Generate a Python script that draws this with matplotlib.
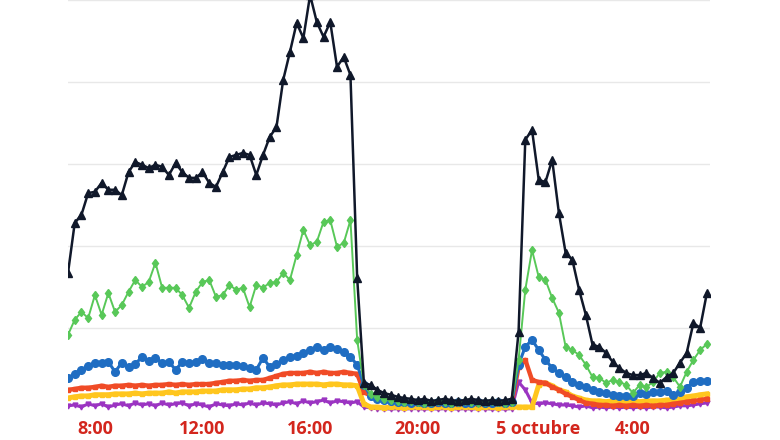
import matplotlib
matplotlib.use("Agg")
import matplotlib.pyplot as plt
import matplotlib.transforms as mtransforms
import pandas as pd

# 15-minute samples from 4 Oct 07:00 to 5 Oct 06:45
times = pd.date_range("2023-10-04 07:00", periods=96, freq="15min")

tick_times = pd.to_datetime(["2023-10-04 08:00", "2023-10-04 12:00", "2023-10-04 16:00",
                             "2023-10-04 20:00", "2023-10-05 00:00", "2023-10-05 04:00"])
tick_labels = ["8:00", "12:00", "16:00", "20:00", "5 octubre", "4:00"]

black = [33.4, 45.6, 47.6, 52.9, 53.2, 55.4, 53.7, 53.7, 52.4, 58.0, 60.5, 59.8, 59.0, 59.8, 59.3,
         57.3, 60.2, 58.0, 56.6, 56.6, 58.0, 55.4, 54.4, 58.0, 61.7, 62.2, 62.7, 62.2, 57.3, 62.2,
         66.6, 69.0, 80.5, 87.3, 94.4, 90.7, 101.2, 94.6, 91.0, 94.6, 83.7, 86.1, 81.7, 32.2, 6.6,
         6.1, 4.9, 4.1, 3.7, 3.2, 2.9, 2.7, 2.4, 2.7, 2.2, 2.4, 2.7, 2.4, 2.2, 2.4, 2.7, 2.4, 2.2,
         2.4, 2.2, 2.4, 2.7,
         19.0, 65.9, 68.3, 56.1, 55.6, 61.0, 48.0, 38.3, 36.6, 29.3, 23.2, 15.9, 15.4, 13.9, 11.7,
         10.2, 9.0, 8.5, 8.5, 9.0, 7.8, 6.6, 8.0, 9.0, 11.5, 13.9, 21.2, 20.0, 28.5]

green = [18.3, 22.0, 23.9, 22.4, 28.0, 23.2, 28.5, 23.9, 25.6, 28.8, 31.7, 30.0, 31.2, 35.9, 29.8,
         29.8, 29.8, 28.0, 24.9, 28.8, 31.2, 31.7, 27.6, 28.0, 30.5, 29.3, 29.8, 25.1, 30.5, 29.8,
         31.0, 31.2, 33.4, 31.7, 37.8, 43.9, 40.2, 41.0, 45.9, 46.3, 39.8, 40.7, 46.3, 17.1, 6.1,
         3.9, 3.2, 2.7, 2.4, 2.2, 2.0, 2.2, 2.0, 1.7, 2.0, 2.2, 2.0, 1.7, 2.0, 2.2, 2.0, 1.7, 2.0,
         2.2, 2.0, 1.7, 2.0,
         12.2, 29.3, 39.0, 32.4, 31.7, 27.3, 23.7, 15.4, 14.6, 13.4, 11.0, 8.0, 7.8, 6.6, 7.3,
         6.8, 6.1, 4.1, 6.1, 5.6, 6.8, 9.0, 9.3, 8.0, 5.6, 9.3, 12.2, 14.6, 16.1]

blue = [7.8, 8.8, 9.8, 10.7, 11.5, 11.5, 11.7, 9.3, 11.5, 10.5, 11.2, 12.9, 12.0, 12.7, 11.5,
        11.7, 9.8, 11.7, 11.5, 11.7, 12.4, 11.5, 11.5, 11.0, 11.0, 11.0, 10.7, 10.2, 9.8, 12.7,
        10.5, 11.2, 12.2, 12.9, 13.2, 13.9, 14.6, 15.4, 14.6, 15.4, 14.9, 14.1, 12.9, 11.0, 6.1,
        3.4, 2.7, 2.4, 2.2, 2.0, 2.0, 1.7, 2.0, 1.7, 1.7, 2.0, 1.7, 1.7, 2.0, 1.7, 1.7, 2.0, 1.7,
        1.7, 2.0, 1.7, 2.0,
        11.0, 15.4, 17.1, 14.6, 12.2, 10.2, 9.0, 8.0, 6.8, 6.1, 5.6, 4.9, 4.4, 4.1, 3.7,
        3.4, 3.4, 3.4, 4.1, 3.9, 4.4, 4.4, 4.6, 3.7, 4.4, 5.4, 6.8, 7.1, 7.1]

red = [4.9, 5.1, 5.4, 5.4, 5.6, 5.9, 5.6, 5.9, 5.9, 6.1, 5.9, 6.1, 5.9, 6.1, 6.1,
       6.3, 6.1, 6.3, 6.1, 6.3, 6.3, 6.3, 6.6, 6.8, 7.1, 7.1, 7.3, 7.1, 7.3, 7.3,
       7.8, 8.3, 8.8, 9.0, 9.0, 9.0, 9.3, 9.0, 9.3, 9.0, 9.0, 9.3, 9.0, 8.8, 4.4,
       3.4, 2.7, 2.4, 2.2, 2.0, 2.0, 1.7, 1.7, 1.5, 1.7, 1.5, 1.5, 1.7, 1.5, 1.5, 1.7, 1.5, 1.5,
       1.5, 1.7, 1.5, 1.7,
       10.5, 12.2, 7.3, 6.8, 6.6, 5.6, 4.9, 3.9, 3.2, 2.4, 1.7, 1.5, 1.2, 1.2, 1.0,
       1.2, 1.0, 1.2, 1.0, 1.2, 1.0, 1.2, 1.2, 1.5, 1.7, 2.0, 2.2, 2.4, 2.7]

yellow = [2.9, 3.2, 3.4, 3.4, 3.7, 3.7, 3.7, 3.9, 3.9, 3.9, 4.1, 3.9, 4.1, 4.1, 4.1,
          4.4, 4.1, 4.4, 4.4, 4.4, 4.6, 4.6, 4.6, 4.9, 4.9, 4.9, 5.1, 5.1, 5.4, 5.4,
          5.6, 5.9, 6.1, 6.1, 6.3, 6.3, 6.3, 6.3, 6.1, 6.3, 6.3, 6.1, 6.1, 5.9, 1.5,
          0.7, 0.7, 0.5, 0.7, 0.7, 0.5, 0.7, 0.7, 0.7, 0.5, 0.7, 0.7, 0.5, 0.7, 0.7, 0.7, 0.5, 0.7,
          0.7, 0.5, 0.7, 0.7,
          0.7, 0.7, 0.7, 6.1, 6.6, 5.9, 4.9, 4.4, 3.4, 2.9, 2.4, 2.2, 2.2, 2.0, 2.2,
          2.0, 2.0, 2.2, 2.0, 2.2, 2.2, 2.2, 2.4, 2.4, 2.7, 3.2, 3.4, 3.7, 3.9]

purple = [1.0, 1.2, 0.7, 1.5, 1.0, 1.5, 0.7, 1.2, 1.5, 1.0, 1.7, 1.2, 1.5, 1.0, 1.7,
          1.2, 1.5, 1.7, 1.0, 1.5, 1.2, 0.7, 1.5, 1.2, 1.0, 1.5, 1.2, 1.7, 1.2, 1.7,
          1.5, 1.2, 1.7, 2.0, 1.5, 2.2, 1.7, 2.0, 2.4, 1.7, 2.2, 2.0, 1.7, 2.0, 0.7,
          0.5, 0.3, 0.3, 0.2, 0.3, 0.2, 0.3, 0.3, 0.2, 0.3, 0.2, 0.3, 0.3, 0.2, 0.3, 0.2, 0.3, 0.3,
          0.2, 0.3, 0.2, 0.3,
          6.8, 4.9, 1.7, 1.5, 1.7, 1.5, 1.2, 1.2, 1.0, 0.7, 1.0, 0.5, 0.7, 0.5, 0.7,
          0.5, 0.7, 0.5, 0.7, 0.5, 0.7, 0.7, 0.5, 0.7, 1.0, 1.0, 1.2, 1.5, 1.7]

fig = plt.figure(figsize=(7.8, 4.4), dpi=100)
ax = fig.add_axes([68 / 780, 26 / 440, 642 / 780, 414 / 440])

ax.plot(times, purple, color="#9b34c2", lw=2.2, marker="v", ms=3.5, zorder=2)
ax.plot(times, yellow, color="#ffc61e", lw=3.6, marker="s", ms=3.5, zorder=3)
ax.plot(times, red, color="#f04b26", lw=3.2, marker="s", ms=3.5, zorder=4)
ax.plot(times, blue, color="#1f6dc2", lw=2.2, marker="o", ms=5.5, zorder=5)
ax.plot(times, green, color="#58c858", lw=1.4, marker="d", ms=4.5, zorder=6)
ax.plot(times, black, color="#10182a", lw=1.8, marker="^", ms=5.5, zorder=7)

ax.set_ylim(-1, 100)
ax.set_xlim(pd.Timestamp("2023-10-04 07:00"), pd.Timestamp("2023-10-05 06:52"))
ax.set_yticks([20, 40, 60, 80, 100])
ax.yaxis.grid(True, color="#e8e8e8", lw=1.0, zorder=0)
ax.set_axisbelow(True)
ax.tick_params(axis="y", left=False, labelleft=False)
ax.set_xticks(tick_times)
ax.set_xticklabels(tick_labels, color="#d3261d", fontweight="bold", fontsize=13,
                   family=["Open Sans", "DejaVu Sans"])
ax.tick_params(axis="x", length=0, pad=4)
for s in ax.spines.values():
    s.set_visible(False)

lab = ax.get_xticklabels()[4]
lab.set_transform(lab.get_transform() + mtransforms.ScaledTranslation(13 / 100, 0, fig.dpi_scale_trans))

fig.savefig("out.png", dpi=100, facecolor="white")
